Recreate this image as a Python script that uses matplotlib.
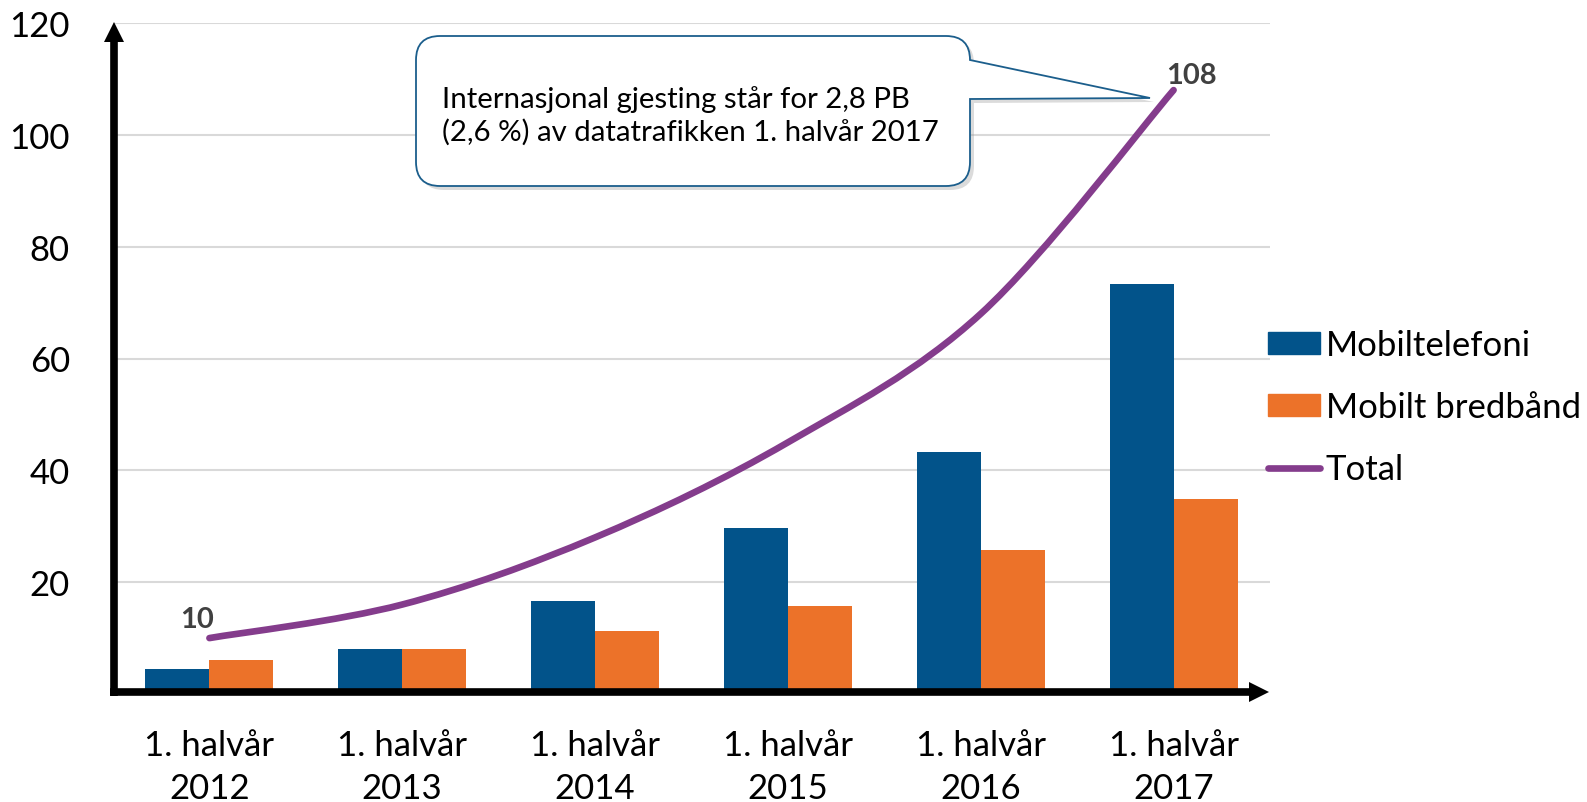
import numpy as np
import matplotlib
matplotlib.use("Agg")
import matplotlib.pyplot as plt
from matplotlib.path import Path
from matplotlib.patches import PathPatch, Polygon, Patch
from matplotlib.lines import Line2D

plt.rcParams['font.family'] = ['Lato', 'DejaVu Sans']

# Data (petabyte, 1. halvår hvert år)
years = ["2012", "2013", "2014", "2015", "2016", "2017"]
mobiltelefoni = [4.5, 8.0, 16.6, 29.6, 43.3, 73.4]
mobilt_bredband = [6.1, 8.0, 11.3, 15.7, 25.7, 34.9]
total = [10, 16, 28, 45, 68, 108]
tick_labels = ["1. halvår\n" + y for y in years]
callout_text = "Internasjonal gjesting står for 2,8 PB\n(2,6 %) av datatrafikken 1. halvår 2017"

blue = "#02538A"
orange = "#EC7229"
purple = "#843C8C"
label_grey = "#404040"

W, H = 1587, 803
fig = plt.figure(figsize=(W / 100, H / 100), dpi=100)


def fx(px):
    return px / W


def fy(py):
    return 1 - py / H


ax = fig.add_axes([fx(113), fy(695), fx(1270) - fx(113), fy(24) - fy(695)])

x = np.arange(len(years))
bw = 0.332
ax.bar(x - bw / 2, mobiltelefoni, bw, color=blue, label="Mobiltelefoni", zorder=2)
ax.bar(x + bw / 2, mobilt_bredband, bw, color=orange, label="Mobilt bredbånd", zorder=2)

# smoothed total line, drawn as bezier path through the data points
pts = np.column_stack([x, total]).astype(float)
verts = [pts[0]]
codes = [Path.MOVETO]
for i in range(len(pts) - 1):
    p0 = pts[i - 1] if i > 0 else pts[i]
    p1 = pts[i]
    p2 = pts[i + 1]
    p3 = pts[i + 2] if i + 2 < len(pts) else pts[i + 1]
    c1 = p1 + (p2 - p0) / 6
    c2 = p2 - (p3 - p1) / 6
    verts += [c1, c2, p2]
    codes += [Path.CURVE4] * 3
ax.add_patch(PathPatch(Path(verts, codes), facecolor="none", edgecolor=purple,
                       lw=4.8, capstyle="round", zorder=3))

ax.annotate(str(total[0]), (x[0], total[0]), xytext=(-9, 14), textcoords="offset points",
            ha="center", va="center", fontsize=21, fontweight="bold", color=label_grey)
ax.annotate(str(total[-1]), (x[-1], total[-1]), xytext=(13, 11), textcoords="offset points",
            ha="center", va="center", fontsize=21, fontweight="bold", color=label_grey)

ax.set_xlim(-0.5, 5.5)
ax.set_ylim(0, 120)
ax.set_yticks([20, 40, 60, 80, 100, 120])
ax.set_xticks(x)
ax.set_xticklabels(tick_labels, linespacing=1.45)
ax.tick_params(axis="y", length=0, pad=31, labelsize=25)
ax.tick_params(axis="x", length=0, pad=25, labelsize=25)
ax.yaxis.grid(True, color="#D9D9D9", lw=1.5)
ax.set_axisbelow(True)
for s in ax.spines.values():
    s.set_visible(False)

# arrow axes
fig.add_artist(Line2D([fx(114), fx(114)], [fy(697), fy(40)], color="black", lw=5.5,
                      solid_capstyle="butt", transform=fig.transFigure))
fig.add_artist(Polygon([[fx(104), fy(43)], [fx(124), fy(43)], [fx(114), fy(23)]],
                       closed=True, color="black", lw=0, transform=fig.transFigure))
fig.add_artist(Line2D([fx(110), fx(1252)], [fy(693), fy(693)], color="black", lw=5.5,
                      solid_capstyle="butt", transform=fig.transFigure))
fig.add_artist(Polygon([[fx(1249), fy(683)], [fx(1249), fy(703)], [fx(1269), fy(693)]],
                       closed=True, color="black", lw=0, transform=fig.transFigure))

# legend
handles = [Patch(color=blue), Patch(color=orange),
           Line2D([0], [0], color=purple, lw=4.8, solid_capstyle="round")]
fig.legend(handles, ["Mobiltelefoni", "Mobilt bredbånd", "Total"],
           loc="upper left", bbox_to_anchor=(fx(1268), fy(330)), frameon=False,
           fontsize=25, handlelength=1.5, handleheight=0.6, handletextpad=0.17,
           labelspacing=0.87, borderpad=0, borderaxespad=0)

# callout box with tail
L, T, R, B, r = 416, 37, 970, 187, 24
tip = (1150, 99)
shape = [
    ((L + r, T), Path.MOVETO), ((R - r, T), Path.LINETO),
    ((R, T), Path.CURVE3), ((R, T + r), Path.CURVE3),
    (tip, Path.LINETO), ((R, 100), Path.LINETO), ((R, B - r), Path.LINETO),
    ((R, B), Path.CURVE3), ((R - r, B), Path.CURVE3),
    ((L + r, B), Path.LINETO),
    ((L, B), Path.CURVE3), ((L, B - r), Path.CURVE3),
    ((L, T + r), Path.LINETO),
    ((L, T), Path.CURVE3), ((L + r, T), Path.CURVE3),
    ((L + r, T), Path.CLOSEPOLY),
]


def to_fig(shift=0):
    return Path([(fx(p[0] + shift), fy(p[1] + shift)) for p, c in shape], [c for p, c in shape])


fig.add_artist(PathPatch(to_fig(4), facecolor="#999999", edgecolor="none", alpha=0.35,
                         transform=fig.transFigure))
fig.add_artist(PathPatch(to_fig(0), facecolor="white", edgecolor="#1B5E8C", lw=1.3,
                         transform=fig.transFigure))
fig.text(fx(442), fy(116), callout_text, fontsize=21.2, va="center", ha="left",
         linespacing=1.25)

fig.savefig("out.png", dpi=100)
